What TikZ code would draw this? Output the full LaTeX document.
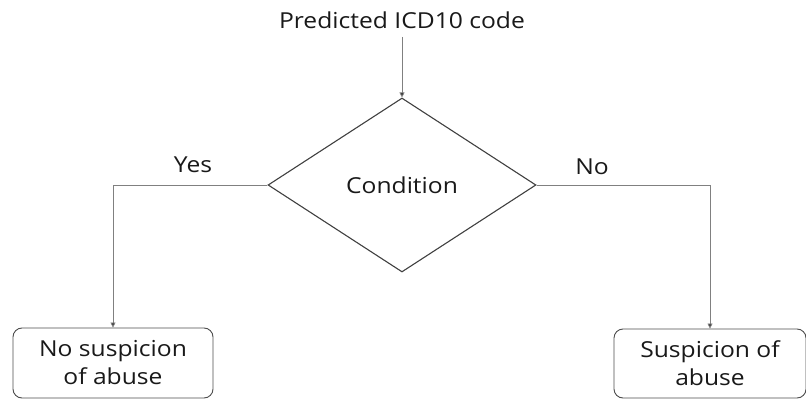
\documentclass[tikz,border=0pt]{standalone}
\usepackage{fontspec}
\setmainfont[FakeStretch=1.12]{Open Sans}
\usetikzlibrary{shapes.geometric,arrows.meta}

\tikzset{
  label/.style={font=\fontsize{22}{28}\selectfont, text=black!90, inner sep=0pt},
  decision/.style={diamond, draw=black!75, line width=1.1pt, inner sep=0pt,
    minimum width=268pt, minimum height=174pt},
  outcome/.style={rectangle, rounded corners=9pt, draw=black!70, line width=0.9pt,
    align=center, font=\fontsize{22}{28}\selectfont, text=black!90},
  link/.style={draw=black!50, line width=0.8pt,
    -{Triangle[length=5pt,width=5pt,fill=black!80]}}
}

\begin{document}
\begin{tikzpicture}[x=1pt,y=-1pt]
  \useasboundingbox (0,0) rectangle (806,401);

  % input label and decision
  \node[label] (input) at (402,20) {Predicted ICD10 code};
  \node[decision] (cond) at (402,185) {};
  \node[label] (condtext) at (402,185) {Condition};

  % outcomes
  \node[outcome, minimum width=200pt, minimum height=70pt] (noabuse) at (113,363)
    {No suspicion\\of abuse};
  \node[outcome, minimum width=192pt, minimum height=69pt] (abuse) at (710,363.5)
    {Suspicion of\\abuse};

  % branch labels
  \node[label] (yes) at (193,165) {Yes};
  \node[label] (no) at (592,167) {No};

  % connectors
  \coordinate (inbot) at (402,37);
  \draw[link] (inbot) -- (cond.north);
  \draw[link] (cond.west) -| (noabuse.north);
  \draw[link] (cond.east) -| (abuse.north);
\end{tikzpicture}
\end{document}
